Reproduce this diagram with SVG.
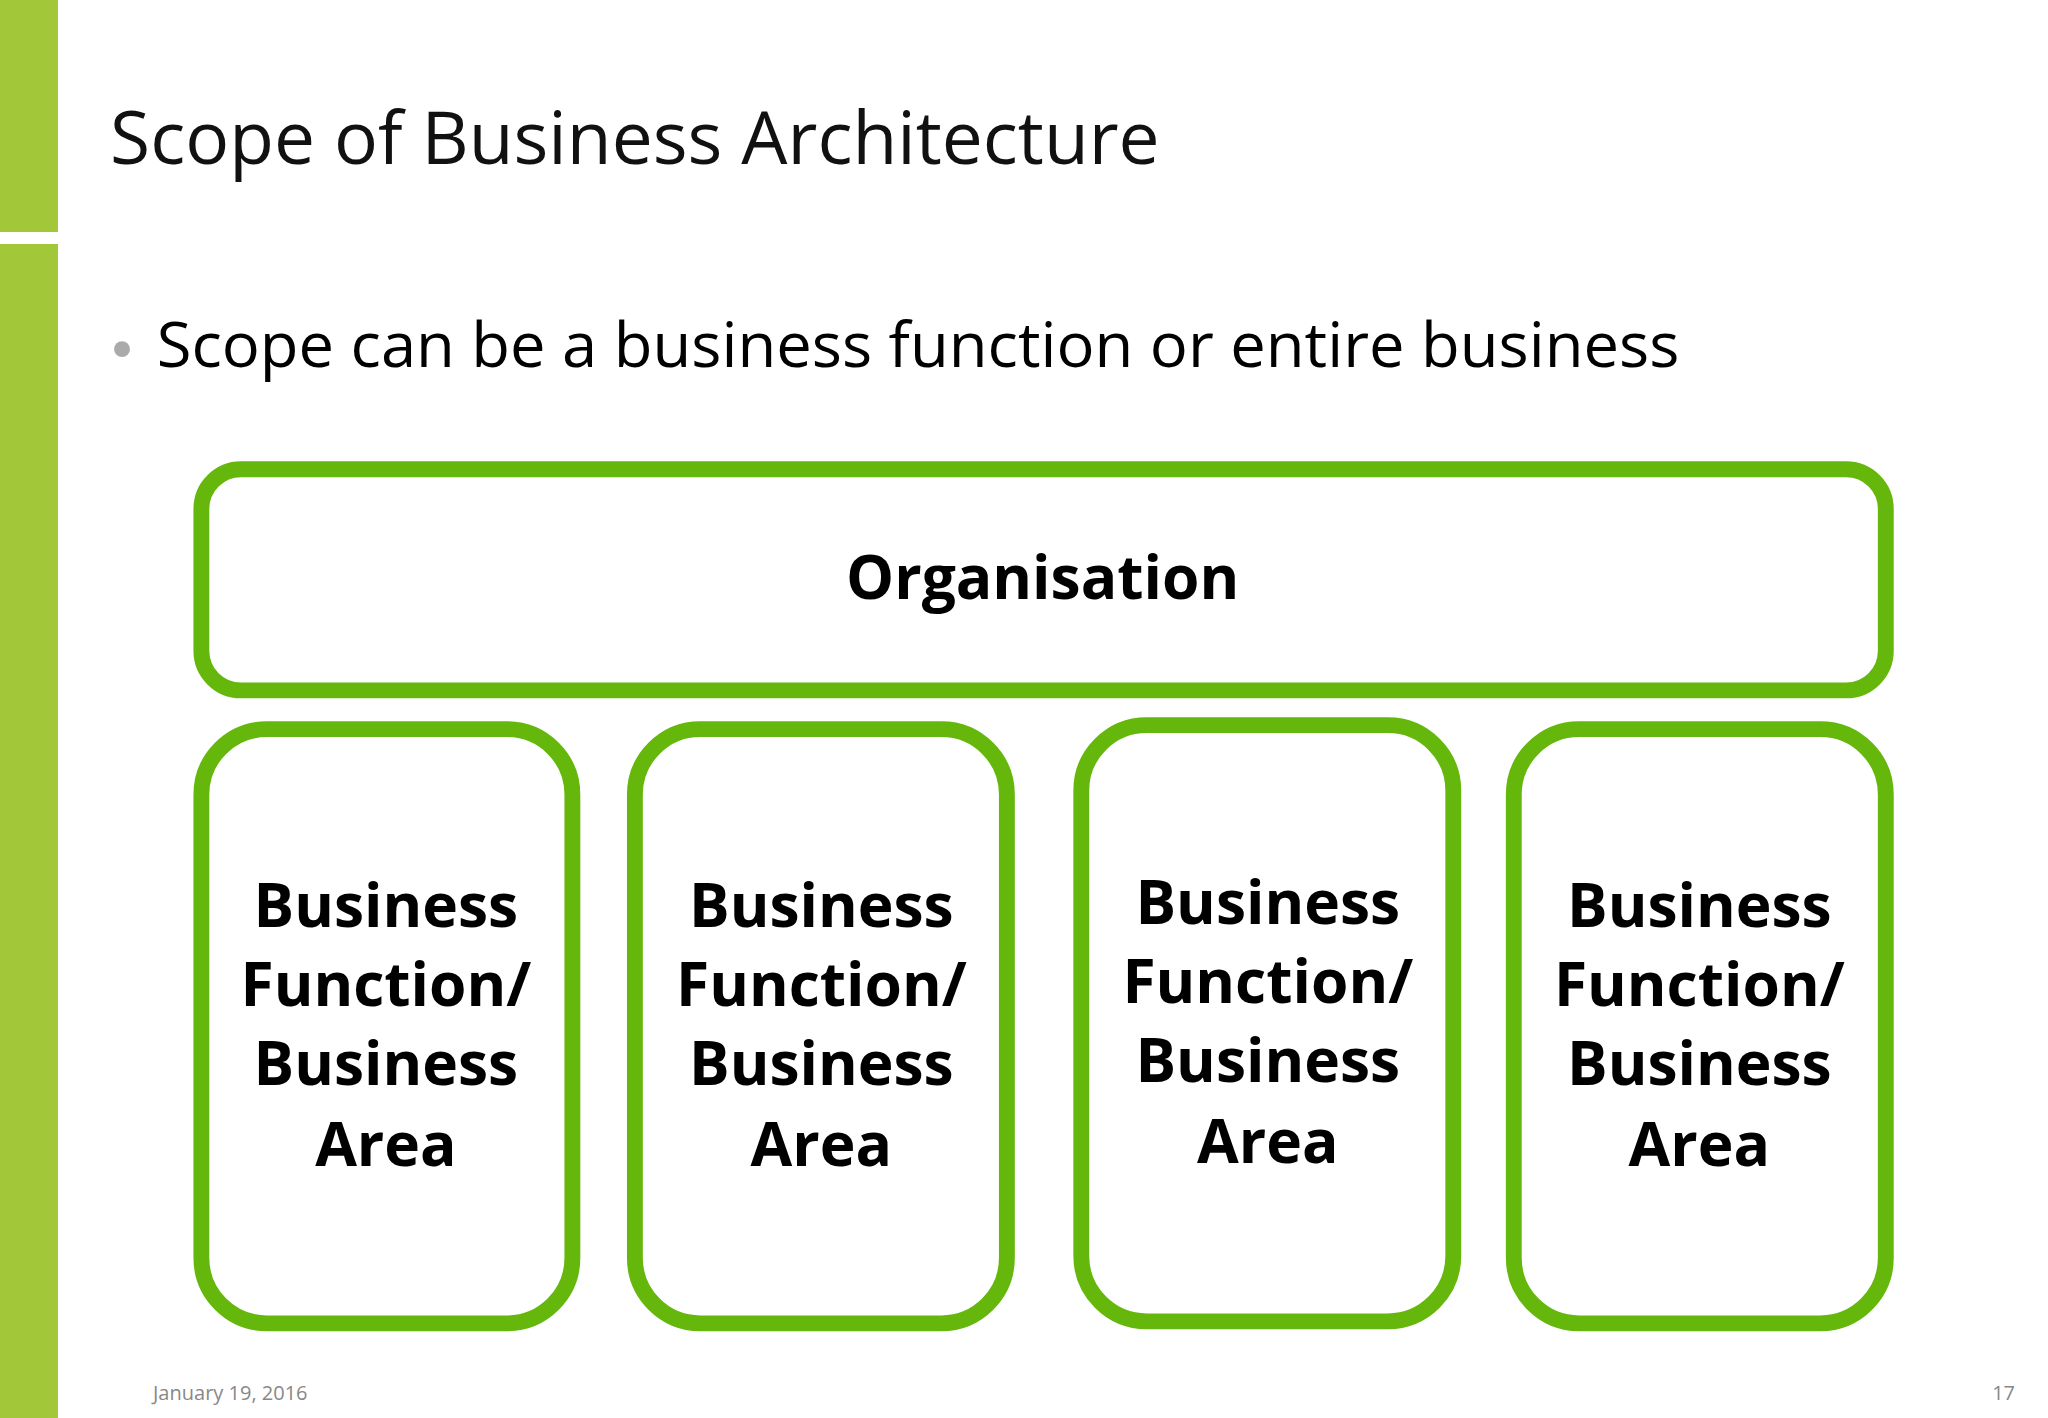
<svg xmlns="http://www.w3.org/2000/svg" width="2048" height="1418" viewBox="0 0 2048 1418">
<style>
.box{fill:#fff;stroke:#65b70b;stroke-width:16}
.lbl{font-family:"Open Sans","Noto Sans",sans-serif;font-weight:bold;font-size:61px;fill:#000;text-anchor:middle}
.ft{font-family:"Open Sans","Noto Sans",sans-serif;font-size:20px;fill:#888}
</style>
<rect width="2048" height="1418" fill="#fff"/>
<rect x="0" y="0" width="58" height="232" fill="#a2c83a"/>
<rect x="0" y="244" width="58" height="1174" fill="#a2c83a"/>
<g transform="scale(0.992)">
<text x="111" y="165" font-family="Open Sans,Noto Sans,sans-serif" font-size="74" fill="#111" textLength="1058" lengthAdjust="spacingAndGlyphs">Scope of Business Architecture</text>
<circle cx="123" cy="352" r="8" fill="#aaa"/>
<text x="158" y="370" font-family="Open Sans,Noto Sans,sans-serif" font-size="62" fill="#000" textLength="1535" lengthAdjust="spacingAndGlyphs">Scope can be a business function or entire business</text>
<g id="org"><rect class="box" x="203" y="473" width="1698" height="223" rx="40"/><text class="lbl" x="1051" y="604">Organisation</text></g>
<g id="b1"><rect class="box" x="203" y="735" width="374" height="599" rx="66"/><text class="lbl" x="389" y="934">Business</text><text class="lbl" x="389" y="1014">Function/</text><text class="lbl" x="389" y="1094">Business</text><text class="lbl" x="389" y="1175">Area</text></g>
<g id="b2"><rect class="box" x="640" y="735" width="375" height="599" rx="66"/><text class="lbl" x="828" y="934">Business</text><text class="lbl" x="828" y="1014">Function/</text><text class="lbl" x="828" y="1094">Business</text><text class="lbl" x="828" y="1175">Area</text></g>
<g id="b3"><rect class="box" x="1090" y="731" width="375" height="601" rx="66"/><text class="lbl" x="1278" y="931">Business</text><text class="lbl" x="1278" y="1011">Function/</text><text class="lbl" x="1278" y="1091">Business</text><text class="lbl" x="1278" y="1172">Area</text></g>
<g id="b4"><rect class="box" x="1526" y="735" width="375" height="599" rx="66"/><text class="lbl" x="1713" y="934">Business</text><text class="lbl" x="1713" y="1014">Function/</text><text class="lbl" x="1713" y="1094">Business</text><text class="lbl" x="1713" y="1175">Area</text></g>
<g id="connectors"/>
</g>
<text class="ft" x="153" y="1400">January 19, 2016</text>
<text class="ft" x="2015" y="1400" text-anchor="end">17</text>
</svg>
